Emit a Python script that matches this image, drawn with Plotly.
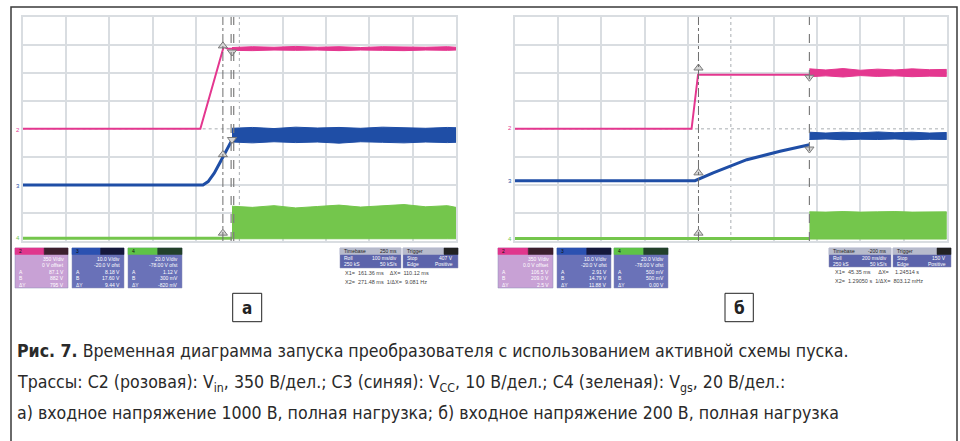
import plotly.graph_objects as go

# ---------------------------------------------------------------------------
# Oscilloscope traces, in graticule divisions (x: -5..5, y: -4..4)
# ---------------------------------------------------------------------------
# Panel "а": 1000 V input, full load
PINK_A_X = [-5.0, -0.90, -0.36, -0.27, -0.17]
PINK_A_Y = [0.00, 0.00, 2.94, 2.86, 2.86]
PINK_A_BAND_X = [-0.17, 0.3, 0.8, 1.3, 1.8, 2.3, 2.8, 3.3, 3.8, 4.3, 4.8, 5.0]
PINK_A_BAND_HI = [2.90, 2.93, 2.91, 2.94, 2.91, 2.93, 2.90, 2.93, 2.92, 2.91, 2.93, 2.91]
PINK_A_BAND_LO = [2.80, 2.79, 2.81, 2.80, 2.81, 2.79, 2.81, 2.80, 2.79, 2.81, 2.80, 2.81]

BLUE_A_X = [-5.0, -0.84, -0.72, -0.58, -0.44, -0.30, -0.17]
BLUE_A_Y = [-2.00, -2.00, -1.88, -1.58, -1.18, -0.75, -0.40]
BLUE_A_BAND_X = [-0.17, 0.3, 0.8, 1.3, 1.8, 2.3, 2.8, 3.3, 3.8, 4.3, 4.8, 5.0]
BLUE_A_BAND_HI = [0.02, 0.05, 0.01, 0.06, 0.03, 0.05, 0.02, 0.06, 0.04, 0.02, 0.05, 0.04]
BLUE_A_BAND_LO = [-0.47, -0.50, -0.46, -0.49, -0.47, -0.51, -0.46, -0.48, -0.50, -0.47, -0.49, -0.48]

GREEN_A_X = [-5.0, -0.17]
GREEN_A_Y = [-3.90, -3.90]
GREEN_A_BAND_X = [-0.17, 0.3, 0.8, 1.3, 1.8, 2.3, 2.8, 3.3, 3.8, 4.3, 4.8, 5.0]
GREEN_A_BAND_HI = [-2.76, -2.80, -2.74, -2.82, -2.77, -2.72, -2.79, -2.75, -2.70, -2.78, -2.74, -2.80]
GREEN_A_BAND_LO = [-3.92] * 12

CURSOR_A_DASHDOT = -0.38
CURSOR_A_DASH = [-0.19, -0.13]
TRIG_A = ([5.07], [1.18], [-0.72], [-4.14])   # level (x, y), position (x, y)

# Panel "б": 200 V input, full load
PINK_B_X = [-5.0, -0.91, -0.76, 1.82]
PINK_B_Y = [0.00, 0.00, 1.93, 1.93]
PINK_B_BAND_X = [1.82, 2.2, 2.6, 3.0, 3.4, 3.8, 4.2, 4.6, 5.0]
PINK_B_BAND_HI = [2.14, 2.10, 2.15, 2.09, 2.13, 2.10, 2.14, 2.11, 2.12]
PINK_B_BAND_LO = [1.86, 1.89, 1.85, 1.90, 1.87, 1.89, 1.86, 1.88, 1.87]

BLUE_B_X = [-5.0, -0.83, -0.41, 0.37, 1.14, 1.82]
BLUE_B_Y = [-1.85, -1.85, -1.57, -1.10, -0.80, -0.57]
BLUE_B_BAND_X = [1.82, 2.2, 2.6, 3.0, 3.4, 3.8, 4.2, 4.6, 5.0]
BLUE_B_BAND_HI = [-0.12, -0.15, -0.12, -0.14, -0.11, -0.14, -0.12, -0.15, -0.13]
BLUE_B_BAND_LO = [-0.38, -0.36, -0.39, -0.37, -0.38, -0.36, -0.39, -0.37, -0.38]

GREEN_B_X = [-5.0, 1.82]
GREEN_B_Y = [-3.91, -3.91]
GREEN_B_BAND_X = [1.82, 2.2, 2.6, 3.0, 3.4, 3.8, 4.2, 4.6, 5.0]
GREEN_B_BAND_HI = [-2.96, -2.97, -2.95, -2.97, -2.96, -2.95, -2.97, -2.96, -2.96]
GREEN_B_BAND_LO = [-3.93] * 9

CURSOR_B_DASHDOT = -0.75
CURSOR_B_DASH = [1.82]
TRIG_B = ([5.09], [1.53], [-0.83], [-4.2])

# Cursor crossing markers (x, y) for each panel
MARK_A_UP = ([-0.38, -0.38, -0.38], [2.96, -0.92, -3.72])
MARK_A_DN = ([-0.17, -0.17], [2.74, -0.38])
MARK_B_UP = ([-0.75, -0.75, -0.75], [2.17, -1.57, -3.72])
MARK_B_DN = ([1.82, 1.82], [1.84, -0.72])

# Readout panels
CH_TEXT_A = [
    ["350 V/div", "0 V offset", "87.1 V", "882 V", "795 V"],
    ["10.0 V/div", "-20.0 V ofst", "8.18 V", "17.60 V", "9.44 V"],
    ["20.0 V/div", "-78.00 V ofst", "1.12 V", "300 mV", "-820 mV"],
]
CH_TEXT_B = [
    ["350 V/div", "0.0 V offset", "106.5 V", "209.0 V", "2.5 V"],
    ["10.0 V/div", "-20.0 V ofst", "2.91 V", "14.79 V", "11.88 V"],
    ["20.0 V/div", "-78.00 V ofst", "500 mV", "500 mV", "0.00 V"],
]
TIMEBASE_A = ("Timebase", "250 ms", "Trigger", "Roll", "100 ms/div", "Stop", "407 V",
              "250 kS", "50 kS/s", "Edge", "Positive")
TIMEBASE_B = ("Timebase", "-200 ms", "Trigger", "Roll", "200 ms/div", "Stop", "150 V",
              "250 kS", "50 kS/s", "Edge", "Positive")
MEAS_A = ("X1=  161.36 ms    \u0394X=  110.12 ms", "X2=  271.48 ms  1/\u0394X=  9.081 Hz")
MEAS_B = ("X1=  45.35 ms     \u0394X=    1.24514 s", "X2=  1.29050 s  1/\u0394X=  803.12 mHz")

PINK = "#e4378f"
BLUE = "#1f4ea6"
GREEN = "#74c64c"
GRID = "#d9dde1"

W, H = 960, 441


def px(x):
    return x / W


def py(y):
    return 1 - y / H


fig = go.Figure()


def add_panel(xa, ya, pink, blue, green, marks, trig):
    # main trace lines
    for (xs, ys), col, wd in ((pink[0], PINK, 2), (blue[0], BLUE, 3), (green[0], GREEN, 3)):
        fig.add_trace(go.Scatter(x=xs, y=ys, mode="lines", line=dict(color=col, width=wd),
                                 xaxis=xa, yaxis=ya, hoverinfo="skip", showlegend=False))
    # noisy envelopes after switch-on
    for (bx, hi, lo), col in ((pink[1], PINK), (blue[1], BLUE), (green[1], GREEN)):
        fig.add_trace(go.Scatter(x=bx + bx[::-1], y=hi + lo[::-1], mode="lines",
                                 fill="toself", fillcolor=col, line=dict(color=col, width=1),
                                 xaxis=xa, yaxis=ya, hoverinfo="skip", showlegend=False))
    up, dn = marks
    for pts, sym in ((up, "triangle-up"), (dn, "triangle-down")):
        fig.add_trace(go.Scatter(x=pts[0], y=pts[1], mode="markers",
                                 marker=dict(symbol=sym, size=8, color="#d6d6d6",
                                             line=dict(color="#7a7a7a", width=1)),
                                 xaxis=xa, yaxis=ya, hoverinfo="skip", showlegend=False))
    # trigger level / position indicators just outside the graticule
    for tx, ty, sym in ((trig[0], trig[1], "triangle-left"), (trig[2], trig[3], "triangle-up")):
        fig.add_trace(go.Scatter(x=tx, y=ty, mode="markers", cliponaxis=False,
                                 marker=dict(symbol=sym, size=5, color=PINK),
                                 xaxis=xa, yaxis=ya, hoverinfo="skip", showlegend=False))


add_panel("x", "y",
          ((PINK_A_X, PINK_A_Y), (PINK_A_BAND_X, PINK_A_BAND_HI, PINK_A_BAND_LO)),
          ((BLUE_A_X, BLUE_A_Y), (BLUE_A_BAND_X, BLUE_A_BAND_HI, BLUE_A_BAND_LO)),
          ((GREEN_A_X, GREEN_A_Y), (GREEN_A_BAND_X, GREEN_A_BAND_HI, GREEN_A_BAND_LO)),
          (MARK_A_UP, MARK_A_DN), TRIG_A)
add_panel("x2", "y2",
          ((PINK_B_X, PINK_B_Y), (PINK_B_BAND_X, PINK_B_BAND_HI, PINK_B_BAND_LO)),
          ((BLUE_B_X, BLUE_B_Y), (BLUE_B_BAND_X, BLUE_B_BAND_HI, BLUE_B_BAND_LO)),
          ((GREEN_B_X, GREEN_B_Y), (GREEN_B_BAND_X, GREEN_B_BAND_HI, GREEN_B_BAND_LO)),
          (MARK_B_UP, MARK_B_DN), TRIG_B)

xgrid = dict(range=[-5, 5], tickvals=[-4, -3, -2, -1, 1, 2, 3, 4], showticklabels=False,
             ticks="", showgrid=True, gridcolor=GRID, gridwidth=1.5, zeroline=False,
             showline=True, mirror=True, linecolor=GRID, linewidth=1.5, fixedrange=True)
ygrid = dict(range=[-4, 4], tickvals=[-3, -2, -1, 1, 2, 3], showticklabels=False,
             ticks="", showgrid=True, gridcolor=GRID, gridwidth=1.5, zeroline=False,
             showline=True, mirror=True, linecolor=GRID, linewidth=1.5, fixedrange=True)

dom_y = [py(241), py(16.7)]
fig.update_layout(
    xaxis=dict(domain=[px(22.7), px(456)], anchor="y", **xgrid),
    yaxis=dict(domain=dom_y, anchor="x", **ygrid),
    xaxis2=dict(domain=[px(515), px(946.7)], anchor="y2", **xgrid),
    yaxis2=dict(domain=dom_y, anchor="x2", **ygrid),
)

shapes = []
# centre graticule lines (dotted) and cursors
for xr, yr, cdd, cds in (("x", "y", CURSOR_A_DASHDOT, CURSOR_A_DASH),
                         ("x2", "y2", CURSOR_B_DASHDOT, CURSOR_B_DASH)):
    shapes.append(dict(type="line", xref=xr, yref=yr, x0=0, x1=0, y0=-4, y1=4,
                       line=dict(color="#a9adb2", width=1, dash="dot"), layer="below"))
    shapes.append(dict(type="line", xref=xr, yref=yr, x0=-5, x1=5, y0=0, y1=0,
                       line=dict(color="#a9adb2", width=1, dash="dot"), layer="below"))
    shapes.append(dict(type="line", xref=xr, yref=yr, x0=cdd, x1=cdd, y0=-4, y1=4,
                       line=dict(color="#6d6d6d", width=1, dash="dashdot")))
    for cd in cds:
        shapes.append(dict(type="line", xref=xr, yref=yr, x0=cd, x1=cd, y0=-4, y1=4,
                           line=dict(color="#7d7d7d", width=1.2, dash="dash")))

# outer frame
shapes.append(dict(type="rect", xref="paper", yref="paper", x0=px(11), x1=px(957),
                   y0=py(446), y1=py(7), line=dict(color="#3a3a3a", width=1.5)))

annotations = []


def box(x0, y0, x1, y1, color, line=None):
    shapes.append(dict(type="rect", xref="paper", yref="paper", x0=px(x0), x1=px(x1),
                       y0=py(y1), y1=py(y0), fillcolor=color,
                       line=dict(color=line or color, width=0.5)))


def txt(x, y, s, size=5, color="white", anchor="right", family="Arial"):
    annotations.append(dict(xref="paper", yref="paper", x=px(x), y=py(y), text=s,
                            showarrow=False, xanchor=anchor, yanchor="middle",
                            font=dict(size=size, color=color, family=family)))


def channel_boxes(x_edges, texts, y0=248, y1=288):
    specs = [("#e0368d", "#3c1f2e", "#c8a1d5"),
             ("#2b51b1", "#15183c", "#6971b8"),
             ("#5ec347", "#22402a", "#6a72b8")]
    for (xa, xb), (hc, dc, bc), lines, n in zip(x_edges, specs, texts, ("2", "3", "4")):
        box(xa, y0, xb, y1, bc, "#8a8fb5")
        mid = xa + (xb - xa) * 0.55
        box(xa, y0, mid, y0 + 6.5, hc)
        box(mid, y0, xb, y0 + 6.5, dc)
        txt(xa + 2, y0 + 3.2, n, size=5, color="#111", anchor="left")
        labels = ["", "", "A", "B", "\u0394Y"]
        for i, s in enumerate(lines):
            yy = y0 + 10.5 + i * 6.5
            txt(xb - 2, yy, s, size=5)
            if labels[i]:
                txt(xa + 2, yy, labels[i], size=5, anchor="left")


def timebase_boxes(x0, xm, x1, tb, meas, y0=248, y1=268, mx=343):
    box(x0, y0, xm - 1, y1, "#5c64ab", "#8a8fb5")
    box(xm + 1, y0, x1, y1, "#5c64ab", "#8a8fb5")
    box(x0, y0, xm - 1, y0 + 6.5, "#b7bbcc")
    box(xm + 1, y0, x1 - 14, y0 + 6.5, "#b7bbcc")
    box(x1 - 14, y0, x1, y0 + 6.5, "#222")
    txt(x0 + 2, y0 + 3.2, tb[0], color="#222", anchor="left")
    txt(xm - 3, y0 + 3.2, tb[1], color="#222")
    txt(xm + 3, y0 + 3.2, tb[2], color="#222", anchor="left")
    txt(x0 + 2, y0 + 10, tb[3], anchor="left")
    txt(xm - 3, y0 + 10, tb[4])
    txt(xm + 3, y0 + 10, tb[5], anchor="left")
    txt(x1 - 3, y0 + 10, tb[6])
    txt(x0 + 2, y0 + 16, tb[7], anchor="left")
    txt(xm - 3, y0 + 16, tb[8])
    txt(xm + 3, y0 + 16, tb[9], anchor="left")
    txt(x1 - 3, y0 + 16, tb[10])
    txt(mx, y1 + 5, meas[0], size=5.5, color="#444", anchor="left")
    txt(mx, y1 + 14, meas[1], size=5.5, color="#444", anchor="left")


channel_boxes([(15, 68), (72, 124), (128, 182)], CH_TEXT_A)
channel_boxes([(498, 553), (557, 611), (614, 668)], CH_TEXT_B)
timebase_boxes(340, 402, 458, TIMEBASE_A, MEAS_A, mx=343)
timebase_boxes(829, 892, 951, TIMEBASE_B, MEAS_B, y1=267, mx=833)

# channel indicators on the left graticule edge
for x, y, s, c in ((18, 130, "2", PINK), (18, 186, "3", BLUE), (18, 238, "4", GREEN),
                   (510, 128, "2", PINK), (510, 181, "3", BLUE), (510, 239, "4", GREEN)):
    txt(x, y, s, size=6, color=c, anchor="center")

# sub-figure labels
for (x0, x1), s in (((232.7, 261.7), "а"), ((725, 753.3), "б")):
    shapes.append(dict(type="rect", xref="paper", yref="paper", x0=px(x0), x1=px(x1),
                       y0=py(321.7), y1=py(293.3), line=dict(color="#222", width=1)))
    txt((x0 + x1) / 2, 307.5, "<b>%s</b>" % s, size=17, color="#222", anchor="center",
        family="DejaVu Sans Condensed, Arial")

# caption
CAP_FONT = "DejaVu Sans Condensed, Roboto, Arial"
CAPTION = [
    "<b>Рис. 7.</b> Временная диаграмма запуска преобразователя с использованием активной схемы пуска.",
    "Трассы: C2 (розовая): V<sub>in</sub>, 350 В/дел.; C3 (синяя): V<sub>CC</sub>, 10 В/дел.; "
    "C4 (зеленая): V<sub>gs</sub>, 20 В/дел.:",
    "а) входное напряжение 1000 В, полная нагрузка; б) входное напряжение 200 В, полная нагрузка",
]
for yy, s in zip((351, 383, 413), CAPTION):
    txt(15, yy, s, size=17.6, color="#2a2a2a", anchor="left", family=CAP_FONT)

fig.update_layout(
    width=W, height=H, margin=dict(l=0, r=0, t=0, b=0),
    paper_bgcolor="white", plot_bgcolor="white",
    shapes=shapes, annotations=annotations, showlegend=False,
)

fig.write_html("out.html", config=dict(displayModeBar=False))
